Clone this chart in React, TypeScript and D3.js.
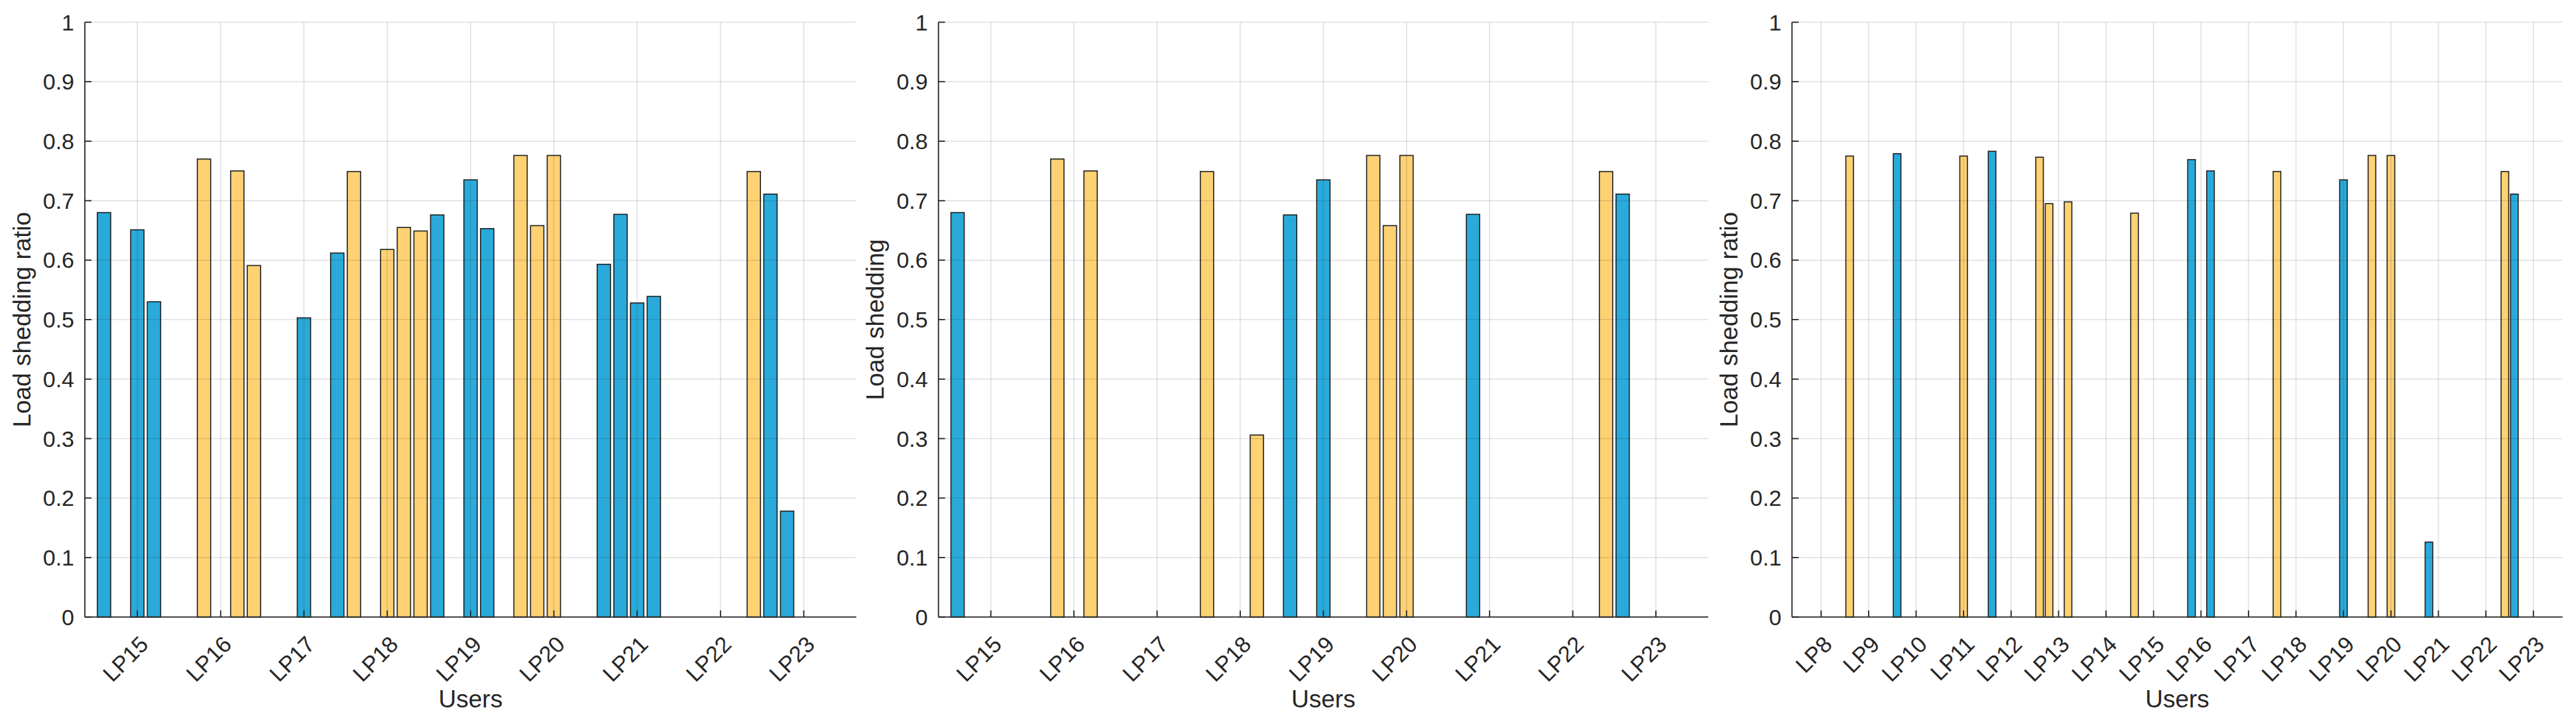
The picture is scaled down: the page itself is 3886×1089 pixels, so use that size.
import React from 'react';
import * as d3 from 'd3';

// ---------- data ----------
const yTicks = [0, 0.1, 0.2, 0.3, 0.4, 0.5, 0.6, 0.7, 0.8, 0.9, 1];

// Panel 1: LP15..LP23, 5 slots per user
const p1Labels = ['LP15', 'LP16', 'LP17', 'LP18', 'LP19', 'LP20', 'LP21', 'LP22', 'LP23'];
const p1Slot = [0, 2, 3, 6, 8, 9, 12, 14, 15, 17, 18, 19, 20, 22, 23, 25, 26, 27, 30, 31, 32, 33, 39, 40, 41];
const p1Value = [0.680, 0.651, 0.530, 0.770, 0.750, 0.591, 0.503, 0.612, 0.749, 0.618, 0.655, 0.649, 0.676, 0.735, 0.653, 0.776, 0.658, 0.776, 0.593, 0.677, 0.528, 0.539, 0.749, 0.711, 0.178];
const p1Type = ['b', 'b', 'b', 'y', 'y', 'y', 'b', 'b', 'y', 'y', 'y', 'y', 'b', 'b', 'b', 'y', 'y', 'y', 'b', 'b', 'b', 'b', 'y', 'b', 'b'];

// Panel 2: LP15..LP23
const p2Labels = ['LP15', 'LP16', 'LP17', 'LP18', 'LP19', 'LP20', 'LP21', 'LP22', 'LP23'];
const p2Slot = [0, 6, 8, 15, 18, 20, 22, 25, 26, 27, 31, 39, 40];
const p2Value = [0.680, 0.770, 0.750, 0.749, 0.306, 0.676, 0.735, 0.776, 0.658, 0.776, 0.677, 0.749, 0.711];
const p2Type = ['b', 'y', 'y', 'y', 'y', 'b', 'b', 'y', 'y', 'y', 'b', 'y', 'b'];

// Panel 3: LP8..LP23
const p3Labels = ['LP8', 'LP9', 'LP10', 'LP11', 'LP12', 'LP13', 'LP14', 'LP15', 'LP16', 'LP17', 'LP18', 'LP19', 'LP20', 'LP21', 'LP22', 'LP23'];
const p3Slot = [5, 10, 17, 20, 25, 26, 28, 35, 41, 43, 50, 57, 60, 62, 66, 74, 75];
const p3Value = [0.775, 0.779, 0.775, 0.783, 0.773, 0.695, 0.698, 0.679, 0.769, 0.750, 0.749, 0.735, 0.776, 0.776, 0.126, 0.749, 0.711];
const p3Type = ['y', 'b', 'y', 'b', 'y', 'y', 'y', 'y', 'b', 'b', 'y', 'b', 'y', 'y', 'b', 'y', 'b'];

const SLOTS_PER_USER = 5;

// ---------- style ----------
const W = 3886;
const H = 1089;
const TOP = 33.5;
const BOTTOM = 930.7;
const COLORS: Record<string, string> = { b: '#29AADA', y: '#FED173' };
const EDGE = '#1f1f1f';
const AX = '#262626';
const FONT = '"Liberation Sans", Arial, Helvetica, sans-serif';

type PanelProps = {
  left: number;
  right: number;
  pad: number;
  labels: string[];
  slots: number[];
  values: number[];
  types: string[];
  ylabel: string;
};

function Panel({ left, right, pad, labels, slots, values, types, ylabel }: PanelProps) {
  const nSlots = labels.length * SLOTS_PER_USER;
  const x = d3.scaleLinear().domain([-pad, nSlots - 1 + pad]).range([left, right]);
  const y = d3.scaleLinear().domain([0, 1]).range([BOTTOM, TOP]);
  const slotW = x(1) - x(0);
  const barW = slotW * 0.8;
  const tickPos = labels.map((_, i) => i * SLOTS_PER_USER + 2);

  return (
    <g>
      {/* bars */}
      {slots.map((s, i) => (
        <rect
          key={'b' + i}
          x={x(s) - barW / 2}
          y={y(values[i])}
          width={barW}
          height={y(0) - y(values[i])}
          fill={COLORS[types[i]]}
          stroke={EDGE}
          strokeWidth={1.6}
        />
      ))}
      {/* grid on top */}
      {yTicks.map((t) => (
        <line key={'gy' + t} x1={left} x2={right} y1={y(t)} y2={y(t)} stroke={AX} strokeOpacity={0.15} strokeWidth={1.5} />
      ))}
      {tickPos.map((p, i) => (
        <line key={'gx' + i} x1={x(p)} x2={x(p)} y1={TOP} y2={BOTTOM} stroke={AX} strokeOpacity={0.15} strokeWidth={1.5} />
      ))}
      {/* axes */}
      <line x1={left} x2={left} y1={TOP} y2={BOTTOM} stroke={AX} strokeWidth={1.8} />
      <line x1={left} x2={right} y1={BOTTOM} y2={BOTTOM} stroke={AX} strokeWidth={1.8} />
      {/* y ticks */}
      {yTicks.map((t) => (
        <g key={'yt' + t}>
          <line x1={left} x2={left + 10} y1={y(t)} y2={y(t)} stroke={AX} strokeWidth={1.8} />
          <text
            x={left - 16}
            y={y(t)}
            textAnchor="end"
            dominantBaseline="central"
            fontFamily={FONT}
            fontSize={34}
            fill={AX}
          >
            {d3.format('~g')(t)}
          </text>
        </g>
      ))}
      {/* x ticks */}
      {tickPos.map((p, i) => (
        <g key={'xt' + i}>
          <line x1={x(p)} x2={x(p)} y1={BOTTOM} y2={BOTTOM - 10} stroke={AX} strokeWidth={1.8} />
          <text
            transform={`translate(${x(p) + 10},${BOTTOM + 35}) rotate(-45)`}
            textAnchor="end"
            dominantBaseline="central"
            fontFamily={FONT}
            fontSize={34}
            fill={AX}
          >
            {labels[i]}
          </text>
        </g>
      ))}
      {/* labels */}
      <text
        x={(left + right) / 2}
        y={1067}
        textAnchor="middle"
        fontFamily={FONT}
        fontSize={37}
        fill={AX}
      >
        Users
      </text>
      <text
        transform={`translate(${left - 95},${(TOP + BOTTOM) / 2}) rotate(-90)`}
        textAnchor="middle"
        dominantBaseline="central"
        fontFamily={FONT}
        fontSize={37}
        fill={AX}
      >
        {ylabel}
      </text>
    </g>
  );
}

export default function App() {
  return (
    <svg
      width={W}
      height={H}
      viewBox={`0 0 ${W} ${H}`}
      style={{ position: 'absolute', left: 0, top: 0, background: '#fff' }}
    >
      <rect x={0} y={0} width={W} height={H} fill="#fff" />
      <Panel left={128} right={1291.7} pad={1.15} labels={p1Labels} slots={p1Slot} values={p1Value} types={p1Type} ylabel="Load shedding ratio" />
      <Panel left={1415.7} right={2577} pad={1.15} labels={p2Labels} slots={p2Slot} values={p2Value} types={p2Type} ylabel="Load shedding" />
      <Panel left={2703.3} right={3865.7} pad={1.07} labels={p3Labels} slots={p3Slot} values={p3Value} types={p3Type} ylabel="Load shedding ratio" />
    </svg>
  );
}
